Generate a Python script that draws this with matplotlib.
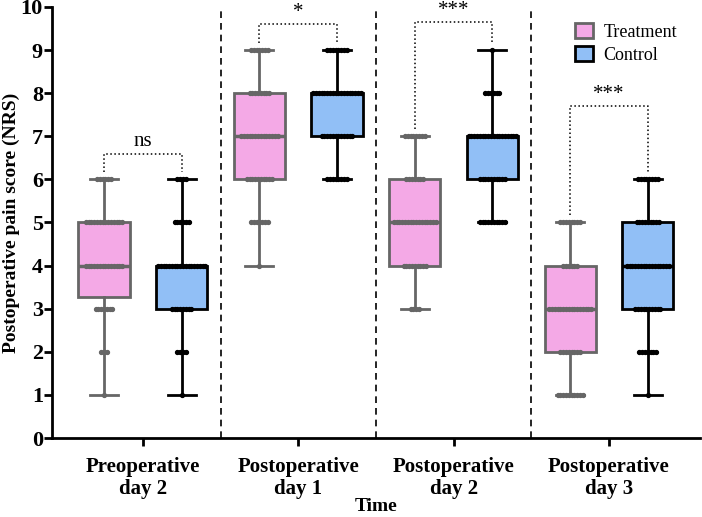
import numpy as np
import matplotlib.pyplot as plt
from matplotlib.patches import Patch

# --- data ---
groups = ["Preoperative\nday 2", "Postoperative\nday 1", "Postoperative\nday 2", "Postoperative\nday 3"]
scores = [1, 2, 3, 4, 5, 6, 7, 8, 9]
yticks = list(range(0, 11))

# box stats per group: (low whisker, q1, median, q3, high whisker)
treat_stats = [(1, 3.27, 4, 5, 6), (4, 6, 7, 8, 9), (3, 4, 5, 6, 7), (1, 2, 3, 4, 5)]
ctrl_stats = [(1, 3, 4, 4, 6), (6, 7, 8, 8, 9), (5, 6, 7, 7, 9), (1, 3, 4, 5, 6)]

# number of patients at each score (1..9)
treat_counts = [
    [1, 3, 7, 14, 14, 6, 0, 0, 0],
    [0, 0, 0, 1, 7, 10, 14, 8, 7],
    [0, 0, 4, 9, 16, 7, 8, 0, 0],
    [10, 8, 16, 6, 8, 0, 0, 0, 0],
]
ctrl_counts = [
    [1, 4, 8, 18, 6, 4, 0, 0, 0],
    [0, 0, 0, 0, 0, 8, 12, 18, 8],
    [0, 0, 0, 0, 10, 10, 18, 6, 1],
    [1, 7, 10, 16, 9, 8, 0, 0, 0],
]

sig_labels = ["ns", "*", "***", "***"]
sig_heights = [6.6, 9.6, 9.65, 7.7]

treat_face, treat_edge = "#F4A9E6", "#666666"
ctrl_face, ctrl_edge = "#91BFF6", "#000000"

plt.rcParams["font.family"] = ["Liberation Serif", "DejaVu Serif"]

fig = plt.figure(figsize=(7.02, 5.17), dpi=100)
ax = fig.add_axes([0.074, 0.1528, 0.923, 0.8337])


def make_stats(s):
    lo, q1, med, q3, hi = s
    return dict(whislo=lo, q1=q1, med=med, q3=q3, whishi=hi, fliers=[])


def draw_arm(stats, counts, positions, face, edge):
    ax.bxp([make_stats(s) for s in stats], positions=positions, widths=0.66,
           patch_artist=True, showfliers=False,
           boxprops=dict(facecolor=face, edgecolor=edge, linewidth=2),
           medianprops=dict(color=edge, linewidth=2.5),
           whiskerprops=dict(color=edge, linewidth=2),
           capprops=dict(color=edge, linewidth=2), capwidths=0.36)
    for pos, cnt in zip(positions, counts):
        for sc, n in zip(scores, cnt):
            if n == 0:
                continue
            xs = pos + (np.arange(n) - (n - 1) / 2) * 0.036
            ax.plot(xs, [sc] * n, "o", ms=2.8, color=edge, mec=edge, zorder=5)


tpos = [0, 2, 4, 6]
cpos = [1, 3, 5, 7]
draw_arm(treat_stats, treat_counts, tpos, treat_face, treat_edge)
draw_arm(ctrl_stats, ctrl_counts, cpos, ctrl_face, ctrl_edge)

# group dividers
for xd in [1.5, 3.5, 5.5]:
    ax.plot([xd, xd], [0, 10], color="black", ls=(0, (4, 3)), lw=1.2, zorder=1)

# significance brackets
for i, (lab, h) in enumerate(zip(sig_labels, sig_heights)):
    x1, x2 = tpos[i], cpos[i]
    y1 = treat_stats[i][4] + 0.17
    y2 = ctrl_stats[i][4] + 0.17
    ax.plot([x1, x1, x2, x2], [y1, h, h, y2], color="black", ls=":", lw=1.1)
    ax.text((x1 + x2) / 2, h + 0.05, lab, ha="center", va="bottom", fontsize=15)

ax.set_xlim(-0.67, 7.67)
ax.set_ylim(0, 10)
ax.set_yticks(yticks, labels=[str(v) for v in yticks], fontsize=16, fontweight="bold")
ax.set_xticks([0.5, 2.5, 4.5, 6.5], labels=groups, fontsize=15, fontweight="bold",
              linespacing=1.1)

ax.spines["top"].set_visible(False)
ax.spines["right"].set_visible(False)
for sp in ["left", "bottom"]:
    ax.spines[sp].set_linewidth(2)
ax.tick_params(axis="both", width=2, length=6, direction="out")
ax.tick_params(axis="x", pad=8)
ax.tick_params(axis="y", pad=0.5)

ax.set_xlabel("Time", fontsize=14, fontweight="bold", va="center")
ax.xaxis.set_label_coords(0.5, -0.16)
ax.set_ylabel("Postoperative pain score (NRS)", fontsize=14, fontweight="bold", va="center")
ax.yaxis.set_label_coords(-0.062, 0.5)

handles = [Patch(facecolor=treat_face, edgecolor=treat_edge, linewidth=2, label="Treatment"),
           Patch(facecolor=ctrl_face, edgecolor=ctrl_edge, linewidth=2, label="Control")]
ax.legend(handles=handles, loc="upper right", bbox_to_anchor=(0.99, 1.0), frameon=False,
          fontsize=13, handlelength=1.0, handleheight=0.9, handletextpad=0.6, labelspacing=0.3)

plt.savefig("out.png", dpi=100)
